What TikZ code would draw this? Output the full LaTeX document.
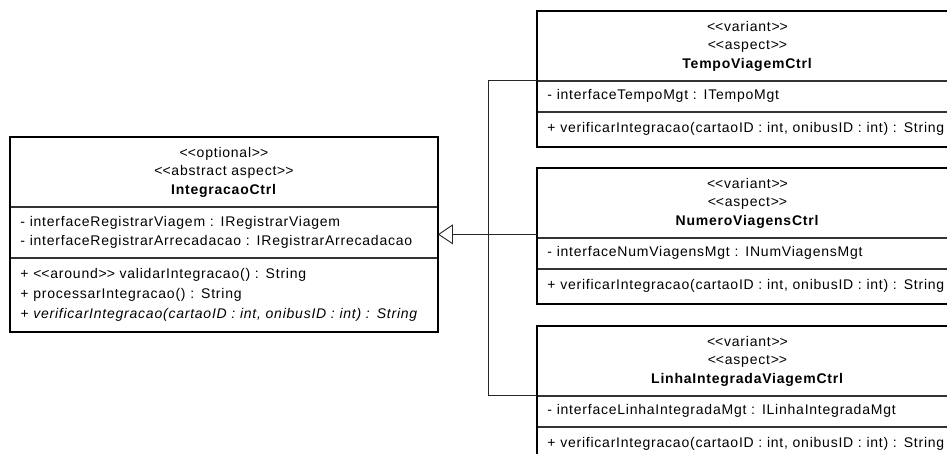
\documentclass[tikz,border=0pt]{standalone}
\usepackage{fontspec}
\setmainfont{Liberation Sans}[LetterSpace=5.5]
\usetikzlibrary{arrows.meta,positioning,calc}
\newcommand\stereo[1]{<\kern0pt<#1>\kern0pt>}
\tikzset{part/.style={draw=black!80,line width=0.9pt,inner xsep=10pt,inner ysep=0pt,font=\fontsize{14}{18.5}\selectfont},head/.style={part,text width=#1,align=center,minimum height=69pt},comp/.style={part,text width=#1,align=left},frame/.style={draw=black,line width=1.6pt},conn/.style={draw=black!85,line width=0.9pt},gen/.style={conn,-{Triangle[open,length=15pt,width=20pt]}}}

\begin{document}
\begin{tikzpicture}[x=1pt,y=-1pt]
\useasboundingbox (0,0) rectangle (947,453);
\clip (0,0) rectangle (947,453);
% abstract aspect
\node[head=407pt,anchor=north west] (ctrlh) at (10,137) {\stereo{optional}\\\stereo{abstract aspect}\\\textbf{IntegracaoCtrl}};
\node[comp=407pt,minimum height=50pt,below=0pt of ctrlh] (ctrla) {- interfaceRegistrarViagem : IRegistrarViagem\\- interfaceRegistrarArrecadacao : IRegistrarArrecadacao};
\node[comp=407pt,minimum height=73pt,below=0pt of ctrla,font=\fontsize{14}{20}\selectfont] (ctrlm) {+ \stereo{around} validarIntegracao() : String\\+ processarIntegracao() : String\\\textit{+ verificarIntegracao(cartaoID : int, onibusID : int) : String}};
\draw[frame] (ctrlh.north west) rectangle (ctrlm.south east);
% variants
\node[head=400pt,anchor=north west] (tempoh) at (537,11) {\stereo{variant}\\\stereo{aspect}\\\textbf{TempoViagemCtrl}};
\node[comp=400pt,minimum height=30pt,below=0pt of tempoh] (tempoa) {- interfaceTempoMgt : ITempoMgt};
\node[comp=400pt,minimum height=34pt,below=0pt of tempoa] (tempom) {+ verificarIntegracao(cartaoID : int, onibusID : int) : String};
\draw[frame] (tempoh.north west) rectangle (tempom.south east);
\node[head=400pt,anchor=north west] (numh) at (537,168) {\stereo{variant}\\\stereo{aspect}\\\textbf{NumeroViagensCtrl}};
\node[comp=400pt,minimum height=30pt,below=0pt of numh] (numa) {- interfaceNumViagensMgt : INumViagensMgt};
\node[comp=400pt,minimum height=34pt,below=0pt of numa] (numm) {+ verificarIntegracao(cartaoID : int, onibusID : int) : String};
\draw[frame] (numh.north west) rectangle (numm.south east);
\node[head=400pt,anchor=north west] (linhah) at (537,326) {\stereo{variant}\\\stereo{aspect}\\\textbf{LinhaIntegradaViagemCtrl}};
\node[comp=400pt,minimum height=30pt,below=0pt of linhah] (linhaa) {- interfaceLinhaIntegradaMgt : ILinhaIntegradaMgt};
\node[comp=400pt,minimum height=34pt,below=0pt of linhaa] (linham) {+ verificarIntegracao(cartaoID : int, onibusID : int) : String};
\draw[frame] (linhah.north west) rectangle (linham.south east);
% generalization
\coordinate (ctrle) at ($(ctrlh.north east)!.5!(ctrlm.south east)$);
\coordinate (bus) at ($(ctrle)+(51,0)$);
\draw[conn] (tempoh.south west) -| (bus) |- (linhah.south west);
\draw[conn] (numh.west |- bus) -- (bus);
\draw[gen] (bus) -- (ctrle);
\end{tikzpicture}
\end{document}
